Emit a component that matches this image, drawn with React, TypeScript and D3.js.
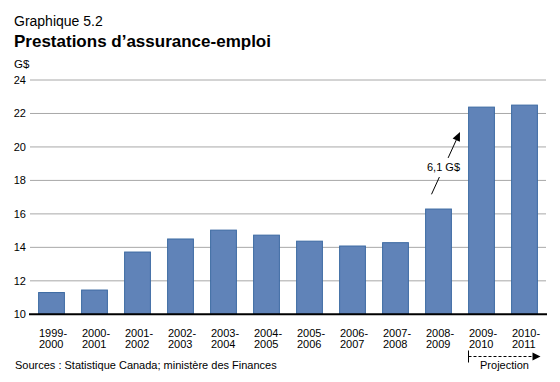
import React from "react";
import * as d3 from "d3";

const categories = [
  ["1999-", "2000"], ["2000-", "2001"], ["2001-", "2002"], ["2002-", "2003"],
  ["2003-", "2004"], ["2004-", "2005"], ["2005-", "2006"], ["2006-", "2007"],
  ["2007-", "2008"], ["2008-", "2009"], ["2009-", "2010"], ["2010-", "2011"],
];
const values = [11.3, 11.45, 13.72, 14.5, 15.03, 14.73, 14.37, 14.08, 14.28, 16.29, 22.38, 22.5];
const yTicks = [10, 12, 14, 16, 18, 20, 22, 24];
const title1 = "Graphique 5.2";
const title2 = "Prestations d’assurance-emploi";
const unitLabel = "G$";
const annotation = "6,1 G$";
const sourceText = "Sources : Statistique Canada; ministère des Finances";
const projectionText = "Projection";

const W = 560, H = 382;
const FONT = "'Liberation Sans', Arial, Helvetica, sans-serif";

export default function App() {
  const keys = categories.map((c) => c.join(""));
  const x = d3.scaleBand().domain(keys).range([30, 546]).paddingInner(0.4).paddingOuter(0.2);
  const y = d3.scaleLinear().domain([10, 24]).range([314.3, 80]);
  const bw = x.bandwidth();
  const cx = (i: number) => (x(keys[i]) as number) + bw / 2;

  // annotation arrow (in data terms)
  const step = x.step();
  const aStart: [number, number] = [cx(9) - 7, y(17.17)];
  const aTip: [number, number] = [cx(9) + step / 2, y(20.9)];
  const dx = aTip[0] - aStart[0], dy = aTip[1] - aStart[1];
  const len = Math.hypot(dx, dy);
  const ux = dx / len, uy = dy / len;
  const pt = (t: number) => [aStart[0] + ux * t, aStart[1] + uy * t];
  const seg1End = pt(19);
  const seg2Start = pt(40);
  const headLen = 9, headW = 4;
  const base = [aTip[0] - ux * headLen, aTip[1] - uy * headLen];
  const head = [
    aTip,
    [base[0] - uy * headW, base[1] + ux * headW],
    [base[0] + uy * headW, base[1] - ux * headW],
  ];

  const projX0 = cx(10) - 13;
  const projX1 = cx(11) + 16;
  const projY = 356.5;

  return (
    <svg width={W} height={H} style={{ position: "absolute", left: 0, top: 0, background: "#fff" }} fontFamily={FONT}>
      <text x={14} y={26} fontSize={14} fill="#000">{title1}</text>
      <text x={14} y={46.5} fontSize={17} fontWeight="bold" fill="#000">{title2}</text>
      <text x={14} y={68} fontSize={11.5} fill="#000">{unitLabel}</text>

      {yTicks.map((t) => (
        <g key={t}>
          {t !== 10 && (
            <line x1={30} x2={546} y1={y(t)} y2={y(t)} stroke="#a8a8a8" strokeWidth={1} />
          )}
          <text x={26} y={y(t) + 4} fontSize={11} textAnchor="end" fill="#000">{t}</text>
        </g>
      ))}

      {values.map((v, i) => (
        <rect key={i} x={x(keys[i])} y={y(v)} width={bw} height={y(10) - y(v)}
          fill="#6083b8" stroke="#3c6aa2" strokeWidth={1} />
      ))}

      <line x1={29} x2={547} y1={y(10)} y2={y(10)} stroke="#000" strokeWidth={2} />

      {categories.map((c, i) => (
        <g key={i} fontSize={11} fill="#000">
          <text x={cx(i) - 12.5} y={336.5}>{c[0]}</text>
          <text x={cx(i) - 12.5} y={348}>{c[1]}</text>
        </g>
      ))}

      <line x1={aStart[0]} y1={aStart[1]} x2={seg1End[0]} y2={seg1End[1]} stroke="#000" strokeWidth={1} />
      <line x1={seg2Start[0]} y1={seg2Start[1]} x2={base[0]} y2={base[1]} stroke="#000" strokeWidth={1} />
      <polygon points={head.map((p) => p.join(",")).join(" ")} fill="#000" />
      <text x={cx(9) + 5} y={y(18.55)} fontSize={11} textAnchor="middle" fill="#000">{annotation}</text>

      <text x={15} y={369} fontSize={11} fill="#000">{sourceText}</text>

      <line x1={projX0} x2={projX0} y1={projY - 6} y2={projY + 6} stroke="#000" strokeWidth={1} />
      <line x1={projX0} x2={projX1 - 7} y1={projY} y2={projY} stroke="#000" strokeWidth={1} strokeDasharray="3,2" />
      <polygon points={`${projX1},${projY} ${projX1 - 8},${projY - 4} ${projX1 - 8},${projY + 4}`} fill="#000" />
      <text x={(projX0 + projX1) / 2} y={368.5} fontSize={11} textAnchor="middle" fill="#000">{projectionText}</text>
    </svg>
  );
}
